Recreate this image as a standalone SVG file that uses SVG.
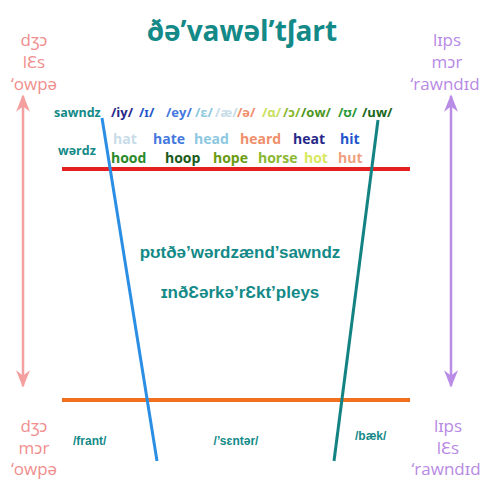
<svg xmlns="http://www.w3.org/2000/svg" width="480" height="480" viewBox="0 0 480 480">
<defs>
<marker id="ap" viewBox="0 0 10 10" refX="9" refY="5" markerWidth="7" markerHeight="7" orient="auto-start-reverse"><path d="M0,1 L10,5 L0,9 L3,5 Z" fill="#f4a0a0"/></marker>
<marker id="au" viewBox="0 0 10 10" refX="9" refY="5" markerWidth="7" markerHeight="7" orient="auto-start-reverse"><path d="M0,1 L10,5 L0,9 L3,5 Z" fill="#b98ce6"/></marker>
</defs>
<style>
text{font-family:"Open Sans","Noto Sans",sans-serif}
.t{fill:#138a88;font-weight:bold}
.c{font-family:"Liberation Sans",Arial,sans-serif}
.pk{fill:#f08e8e;font-size:17px}
.pu{fill:#b88ae4;font-size:17px}
.v{font-size:13px;font-weight:bold}
.w{font-size:14px;font-weight:bold}
.s{font-size:12px;font-weight:bold;fill:#138a88;font-family:"Liberation Sans",Arial,sans-serif}
</style>
<rect width="480" height="480" fill="#fff"/>
<text class="t" x="242" y="41" font-size="28" text-anchor="middle">ðə’vawəl’tʃart</text>
<g id="left-top" text-anchor="middle">
<text class="pk" x="34" y="46">dʒɔ</text>
<text class="pk" x="34" y="68">lƐs</text>
<text class="pk" x="34" y="90">‘owpə</text>
</g>
<g id="left-bottom" text-anchor="middle">
<text class="pk" x="34" y="432">dʒɔ</text>
<text class="pk" x="34" y="454">mɔr</text>
<text class="pk" x="34" y="475">‘owpə</text>
</g>
<g id="right-top" text-anchor="middle">
<text class="pu" x="447" y="46">lɪps</text>
<text class="pu" x="447" y="68">mɔr</text>
<text class="pu" x="445" y="90" font-size="16">‘rawndɪd</text>
</g>
<g id="right-bottom" text-anchor="middle">
<text class="pu" x="448" y="432">lɪps</text>
<text class="pu" x="448" y="454">lƐs</text>
<text class="pu" x="446" y="475" font-size="16">‘rawndɪd</text>
</g>
<g id="connectors">
<line x1="23" y1="386" x2="23" y2="96" stroke="#f4a0a0" stroke-width="2.5" marker-start="url(#ap)" marker-end="url(#ap)"/>
<line x1="451" y1="386" x2="451" y2="96" stroke="#b98ce6" stroke-width="2.5" marker-start="url(#au)" marker-end="url(#au)"/>
<line x1="62" y1="169" x2="410" y2="169" stroke="#e42020" stroke-width="4"/>
<line x1="62" y1="400" x2="410" y2="400" stroke="#f07020" stroke-width="4"/>
<line x1="102" y1="118" x2="157" y2="461" stroke="#2a8ee4" stroke-width="3"/>
<line x1="378" y1="120" x2="334" y2="461" stroke="#128282" stroke-width="3"/>
</g>
<g id="labels">
<text class="t" x="54" y="117" font-size="12.5">sawndz</text>
<text class="t" x="58" y="155" font-size="12.5">wərdz</text>
</g>
<g id="vowels" class="v">
<text x="111" y="117" fill="#28288a">/iy/</text>
<text x="139" y="117" fill="#2255cc">/ɪ/</text>
<text x="166" y="117" fill="#4478de">/ey/</text>
<text x="195" y="117" fill="#8cc8e0">/ɛ/</text>
<text x="215" y="117" fill="#c8dce8">/æ/</text>
<text x="237" y="117" fill="#f08e6a">/ə/</text>
<text x="262" y="117" fill="#c8e060">/ɑ/</text>
<text x="283" y="117" fill="#8ab830">/ɔ/</text>
<text x="301" y="117" fill="#4e9620">/ow/</text>
<text x="338" y="117" fill="#2a9a3a">/ʊ/</text>
<text x="362" y="117" fill="#1a661a">/uw/</text>
</g>
<g id="words1" class="w">
<text x="113" y="144" fill="#c8dce8">hat</text>
<text x="153" y="144" fill="#4478de">hate</text>
<text x="194" y="144" fill="#8cc8e0">head</text>
<text x="240" y="144" fill="#f08e6a">heard</text>
<text x="293" y="144" fill="#28288a">heat</text>
<text x="340" y="144" fill="#2255cc">hit</text>
</g>
<g id="words2" class="w">
<text x="111" y="163" fill="#2a8a2a">hood</text>
<text x="165" y="163" fill="#1a5a1a">hoop</text>
<text x="213" y="163" fill="#6a9a10">hope</text>
<text x="258" y="163" fill="#8ab830">horse</text>
<text x="304" y="163" fill="#d8e860">hot</text>
<text x="338" y="163" fill="#f0a080">hut</text>
</g>
<g id="center" text-anchor="middle">
<text class="t c" x="240" y="258" font-size="17">pʊtðə’wərdzænd’sawndz</text>
<text class="t c" x="240" y="298" font-size="17">ɪnðƐərkə’rƐkt’pleys</text>
</g>
<g id="bottom-labels">
<text class="s" x="73" y="445">/frant/</text>
<text class="s" x="236" y="445" text-anchor="middle">/’sɛntər/</text>
<text class="s" x="355" y="440">/bæk/</text>
</g>
</svg>
